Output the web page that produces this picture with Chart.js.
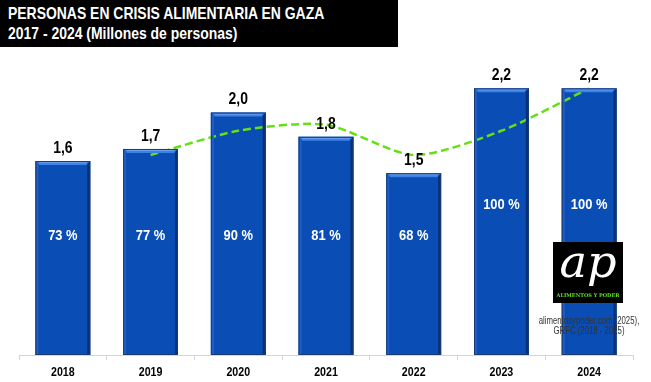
<!DOCTYPE html>
<html><head><meta charset="utf-8">
<script src="https://cdn.jsdelivr.net/npm/chart.js@4.4.1/dist/chart.umd.min.js"></script>
<style>
html,body{margin:0;padding:0;background:#fff;}
#wrap{position:relative;width:651px;height:382px;overflow:hidden;}
#title{position:absolute;left:0;top:0;width:398px;height:47px;background:#000;color:#fff;
 font-family:"Liberation Sans",Arial,sans-serif;font-weight:bold;z-index:2;}
#title div{position:absolute;left:8px;white-space:nowrap;transform:scaleX(0.82);transform-origin:0 0;}
#t1{top:4px;font-size:17px;}
#t2{top:24px;font-size:17px;}
canvas{position:absolute;left:0;top:0;}
</style></head>
<body><div id="wrap">
<div id="title"><div id="t1">PERSONAS EN CRISIS ALIMENTARIA EN GAZA</div><div id="t2">2017 - 2024 (Millones de personas)</div></div>
<canvas id="c" width="651" height="382"></canvas>
</div>
<script>
const years = ['2018','2019','2020','2021','2022','2023','2024'];
const millions = [1.6, 1.7, 2.0, 1.8, 1.5, 2.2, 2.2];
const sharePct = [73, 77, 90, 81, 68, 100, 100];
const trend = [null, 1.65, 1.85, 1.9, 1.65, 1.85, 2.2];
const sourceLines = ['alimentosypoder.com (2025),', 'GRFC (2018 - 2025)'];

const FONT = '"Liberation Sans",Arial,sans-serif';
// vertical placement (in y-axis units) of the white share labels inside each bar
const PCT_LABEL_POS = [0.98, 0.98, 0.98, 0.98, 0.98, 1.24, 1.24];

function narrowText(ctx, text, x, y, sx) {
  ctx.save();
  ctx.translate(x, y);
  ctx.scale(sx, 1);
  ctx.fillText(text, 0, 0);
  ctx.restore();
}

const bevel = {
  id: 'bevel',
  afterDatasetsDraw(chart) {
    const ctx = chart.ctx;
    const meta = chart.getDatasetMeta(0);
    meta.data.forEach(b => {
      const l = b.x - b.width / 2, r = b.x + b.width / 2, t = b.y, bt = b.base;
      ctx.save();
      ctx.fillStyle = '#3f82e6';
      ctx.beginPath();
      ctx.moveTo(l, t); ctx.lineTo(r, t); ctx.lineTo(r - 4, t + 4); ctx.lineTo(l + 4, t + 4); ctx.closePath(); ctx.fill();
      ctx.fillStyle = '#6aa2f0';
      ctx.fillRect(l + 4, t + 1, r - l - 8, 1);
      ctx.fillStyle = '#082f78';
      ctx.beginPath();
      ctx.moveTo(r, t); ctx.lineTo(r, bt); ctx.lineTo(r - 3, bt); ctx.lineTo(r - 3, t + 3); ctx.closePath(); ctx.fill();
      ctx.fillStyle = '#1d5fc6';
      ctx.beginPath();
      ctx.moveTo(l, t); ctx.lineTo(l + 3, t + 3); ctx.lineTo(l + 3, bt); ctx.lineTo(l, bt); ctx.closePath(); ctx.fill();
      ctx.strokeStyle = '#1b3b70';
      ctx.lineWidth = 1;
      ctx.strokeRect(l + 0.5, t + 0.5, r - l - 1, bt - t - 1);
      ctx.restore();
    });
  }
};

const labels = {
  id: 'labels',
  afterDraw(chart) {
    const ctx = chart.ctx;
    const meta = chart.getDatasetMeta(0);
    const ys = chart.scales.y, xs = chart.scales.x;
    ctx.save();
    ctx.textAlign = 'center';
    ctx.textBaseline = 'middle';
    meta.data.forEach((b, i) => {
      ctx.fillStyle = '#000';
      ctx.font = 'bold 17px ' + FONT;
      narrowText(ctx, millions[i].toFixed(1).replace('.', ','), b.x, b.y - 13, 0.82);
      ctx.fillStyle = '#fff';
      ctx.font = 'bold 15px ' + FONT;
      narrowText(ctx, sharePct[i] + ' %', b.x, ys.getPixelForValue(PCT_LABEL_POS[i]), 0.86);
    });
    ctx.fillStyle = '#000';
    ctx.font = 'bold 13px ' + FONT;
    years.forEach((y, i) => narrowText(ctx, y, xs.getPixelForTick(i), 372, 0.82));
    // logo
    const lx = 553, ly = 242, lw = 70, lh = 61;
    ctx.fillStyle = '#000';
    ctx.fillRect(lx, ly, lw, lh);
    ctx.fillStyle = '#fff';
    ctx.font = 'italic 44px "DejaVu Serif",serif';
    narrowText(ctx, 'ap', lx + lw / 2, ly + 24, 1.05);
    ctx.fillStyle = '#5fe01c';
    ctx.font = 'bold 5px "DejaVu Serif",serif';
    ctx.fillText('ALIMENTOS Y PODER', lx + lw / 2, ly + 54);
    ctx.fillStyle = '#333';
    ctx.font = '10px ' + FONT;
    narrowText(ctx, sourceLines[0], 589, 321, 0.78);
    narrowText(ctx, sourceLines[1], 589, 331, 0.78);
    ctx.restore();
  }
};

new Chart(document.getElementById('c'), {
  data: {
    labels: years,
    datasets: [
      {
        type: 'bar', data: millions, backgroundColor: '#0a4db4',
        barPercentage: 0.625, categoryPercentage: 1, order: 2
      },
      {
        type: 'line', data: trend, borderColor: '#66e014', borderWidth: 2.5,
        borderDash: [8, 4], pointRadius: 0, tension: 0.25, fill: false, order: 1
      }
    ]
  },
  options: {
    responsive: false, animation: false,
    layout: { padding: { left: 19, right: 18, top: 52, bottom: 0 } },
    plugins: { legend: { display: false }, tooltip: { enabled: false } },
    scales: {
      x: {
        offset: true,
        afterFit: s => { s.height = 27; },
        border: { display: true, color: '#c9d6ea', width: 1 },
        grid: { drawOnChartArea: false, offset: true, tickLength: 5, color: '#c9d6ea' },
        ticks: { color: 'rgba(0,0,0,0)', padding: 5, font: { family: FONT, weight: 'bold', size: 13 } }
      },
      y: { display: false, min: 0, max: 2.5 }
    }
  },
  plugins: [bevel, labels]
});
</script>
</body></html>
